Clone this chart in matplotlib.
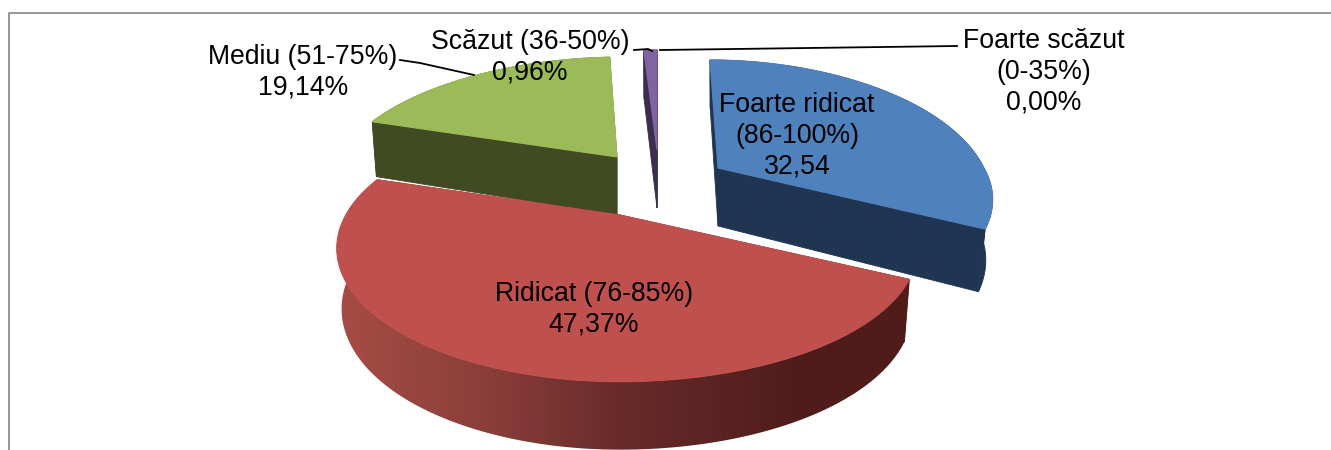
#!/usr/bin/env python3
"""Exploded 3D pie chart drawn by hand, matplotlib has no perspective pie."""

import matplotlib.pyplot as plt
import numpy as np
from matplotlib.colors import to_rgb
from matplotlib.patches import Polygon

plt.rcParams["font.family"] = ["Liberation Sans", "DejaVu Sans"]

categories = ["Foarte ridicat (86-100%)", "Ridicat (76-85%)", "Mediu (51-75%)",
              "Scăzut (36-50%)", "Foarte scăzut (0-35%)"]
values = [32.54, 47.37, 19.14, 0.96, 0.00]
value_labels = ["32,54", "47,37%", "19,14%", "0,96%", "0,00%"]

top_colors = ["#4F81BD", "#C0504D", "#9BBB59", "#8064A2"]
wall_colors = ["#1F3552", "#4F1C1A", "#404A23", "#3A2D4F"]

# apex of every slice in pixels, and small per-slice corrections of the projection
apex = [(718, 168), (620, 215), (617, 157), (657, 150)]
scale_left = [1.0, 0.99, 1.0, 1.0]
scale_right = [0.96, 1.04, 1.0, 1.0]
back_scale_y = [1.08, 1.0, 1.0, 1.0]
front_scale_y = [0.95, 1.0, 1.0, 1.0]
back_skew = [8, 0, -6, 0]
bottom_scale = [0.975, 0.983, 0.983, 0.983]
draw_order = [2, 3, 0, 1]

A, B, K = 277, 125, 0.25

label_lines = [
    ["Foarte ridicat", "(86-100%)", value_labels[0]],
    ["Ridicat (76-85%)", value_labels[1]],
    ["Mediu (51-75%)", value_labels[2]],
    ["Scăzut (36-50%)", value_labels[3]],
    ["Foarte scăzut", "(0-35%)", value_labels[4]],
]
label_pos = [(797, 136), (594, 309), (303, 72), (530, 57), (1044, 72)]

leaders = [
    ([400, 420, 474], [60, 63, 75]),
    ([634, 648, 652], [50, 49, 51]),
    ([660, 957], [50, 46]),
]


def project(theta, i):
    """Disc angle (clockwise from 12 o'clock) to pixel offset, with perspective."""
    x = np.sin(theta)
    y = -np.cos(theta)
    w = 1 - K * y
    scale = np.where(x > 0, scale_right[i], scale_left[i])
    # quadratic skew, it has no kink in the rim at y=0
    skew = np.where(y < 0, back_skew[i] * y * np.abs(y), 0.0)
    dy = B * y / w * np.where(y < 0, back_scale_y[i], front_scale_y[i])
    return A * x / w * scale + skew, dy, y


def top_edge(theta, i):
    dx, dy, _ = project(theta, i)
    return apex[i][0] + dx, apex[i][1] + dy


def bottom_edge(theta, i):
    dx, dy, y = project(theta, i)
    depth = 58 + 10 * y
    return apex[i][0] + bottom_scale[i] * dx, apex[i][1] + dy + depth


def red_wall_gradient():
    xs = np.arange(330, 916)
    stops_x = [340, 480, 620, 800, 910]
    stops = [to_rgb(c) for c in ["#A64C45", "#8C3F3A", "#682B2A", "#4F1C1A", "#4F1C1A"]]
    row = [np.interp(xs, stops_x, [s[k] for s in stops]) for k in range(3)]
    return np.dstack(row)


fig = plt.figure(figsize=(13.31, 4.5), dpi=100)
ax = fig.add_axes([0, 0, 1, 1])

# chart frame, cut off at the bottom and right of the picture
ax.plot([9, 9, 1331], [450, 12.5, 12.5], color="#868686", lw=1.2, zorder=1)

edges = np.radians(np.concatenate([[0], np.cumsum(values)]) * 3.6)
z = 2
for i in draw_order:
    thetas = np.linspace(edges[i], edges[i + 1], 181)
    tx, ty = top_edge(thetas, i)
    bx, by = bottom_edge(thetas, i)
    ax0, ay0 = apex[i]
    bax, bay = ax0, ay0 + 58

    # outer wall, the red one carries a horizontal gradient
    wall_x = np.r_[tx, bx[::-1]]
    wall_y = np.r_[ty, by[::-1]]
    if i == 1:
        img = ax.imshow(red_wall_gradient(), extent=(330, 916, 460, 170), aspect="auto",
                        interpolation="bilinear", zorder=z)
        clip = Polygon(np.c_[wall_x, wall_y], closed=True, transform=ax.transData)
        img.set_clip_path(clip)
    else:
        ax.fill(wall_x, wall_y, color=wall_colors[i], lw=0.6, zorder=z)
    z += 1

    # the two radial faces
    for k in (0, -1):
        ax.fill([ax0, tx[k], bx[k], bax], [ay0, ty[k], by[k], bay],
                color=wall_colors[i], lw=0.6, zorder=z)
    z += 1

    ax.fill(np.r_[ax0, tx], np.r_[ay0, ty], color=top_colors[i], lw=0.8, zorder=z)
    z += 1

for xs, ys in leaders:
    ax.plot(xs, ys, color="black", lw=1.3, zorder=z)

for lines, (px, py) in zip(label_lines, label_pos):
    ax.text(px, py, "\n".join(lines), ha="center", va="center", fontsize=19.2,
            color="black", linespacing=1.23, zorder=z + 1)

ax.set_xlim(0, 1331)
ax.set_ylim(450, 0)
ax.axis("off")

fig.savefig("out.png", dpi=100)
plt.close(fig)
